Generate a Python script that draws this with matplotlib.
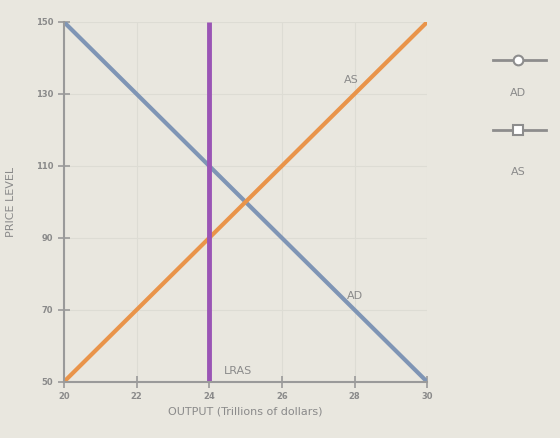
import matplotlib
matplotlib.use("Agg")
import matplotlib.pyplot as plt
from matplotlib.lines import Line2D

# curve endpoints
ad_x = [20, 30]
ad_y = [150, 50]
as_x = [20, 30]
as_y = [50, 150]
lras_x = [24, 24]
lras_y = [50, 150]

x_ticks = [20, 22, 24, 26, 28, 30]
y_ticks = [50, 70, 90, 110, 130, 150]

BG = "#e9e7df"
AD_COLOR = "#7f95b5"
AS_COLOR = "#e9944a"
LRAS_COLOR = "#9a55b5"
TEXT = "#8a8a8a"

fig = plt.figure(figsize=(5.6, 4.38), dpi=100, facecolor=BG)
ax = fig.add_axes([0.114, 0.128, 0.649, 0.822])
ax.set_facecolor(BG)

ax.plot(ad_x, ad_y, color=AD_COLOR, linewidth=3, solid_capstyle="round")
ax.plot(as_x, as_y, color=AS_COLOR, linewidth=3, solid_capstyle="round")
ax.plot(lras_x, lras_y, color=LRAS_COLOR, linewidth=3.5, solid_capstyle="butt")

ax.text(27.9, 134, "AS", color=TEXT, fontsize=8, ha="center", va="center")
ax.text(28.0, 74, "AD", color=TEXT, fontsize=8, ha="center", va="center")
ax.text(24.8, 53, "LRAS", color=TEXT, fontsize=8, ha="center", va="center")

ax.set_xlim(20, 30)
ax.set_ylim(50, 150)
ax.set_xticks(x_ticks)
ax.set_yticks(y_ticks)
ax.tick_params(axis="both", direction="inout", length=8, width=1.2,
               color="#9a9a9a", labelcolor=TEXT, labelsize=6)
for lab in ax.get_xticklabels() + ax.get_yticklabels():
    lab.set_fontweight("bold")
ax.grid(True, color="#dddcd4", linewidth=0.8)
ax.set_axisbelow(True)
for s in ["top", "right"]:
    ax.spines[s].set_visible(False)
for s in ["left", "bottom"]:
    ax.spines[s].set_color("#9a9a9a")
    ax.spines[s].set_linewidth(1.5)

ax.set_xlabel("OUTPUT (Trillions of dollars)", color=TEXT, fontsize=8, labelpad=4)
ax.set_ylabel("PRICE LEVEL", color=TEXT, fontsize=8, labelpad=14)

# legend on the right: marker line with the label below it
for y_line, y_text, marker, name in [(0.863, 0.788, "o", "AD"), (0.703, 0.607, "s", "AS")]:
    fig.add_artist(Line2D([0.88, 0.925, 0.975], [y_line, y_line, y_line],
                          transform=fig.transFigure,
                          color="#8d8d8d", linewidth=2, marker=marker, markevery=[1],
                          markersize=7, markerfacecolor="white",
                          markeredgecolor="#8d8d8d", markeredgewidth=1.5))
    fig.text(0.925, y_text, name, color=TEXT, fontsize=8, ha="center", va="center")

fig.savefig("out.png", dpi=100, facecolor=BG)
